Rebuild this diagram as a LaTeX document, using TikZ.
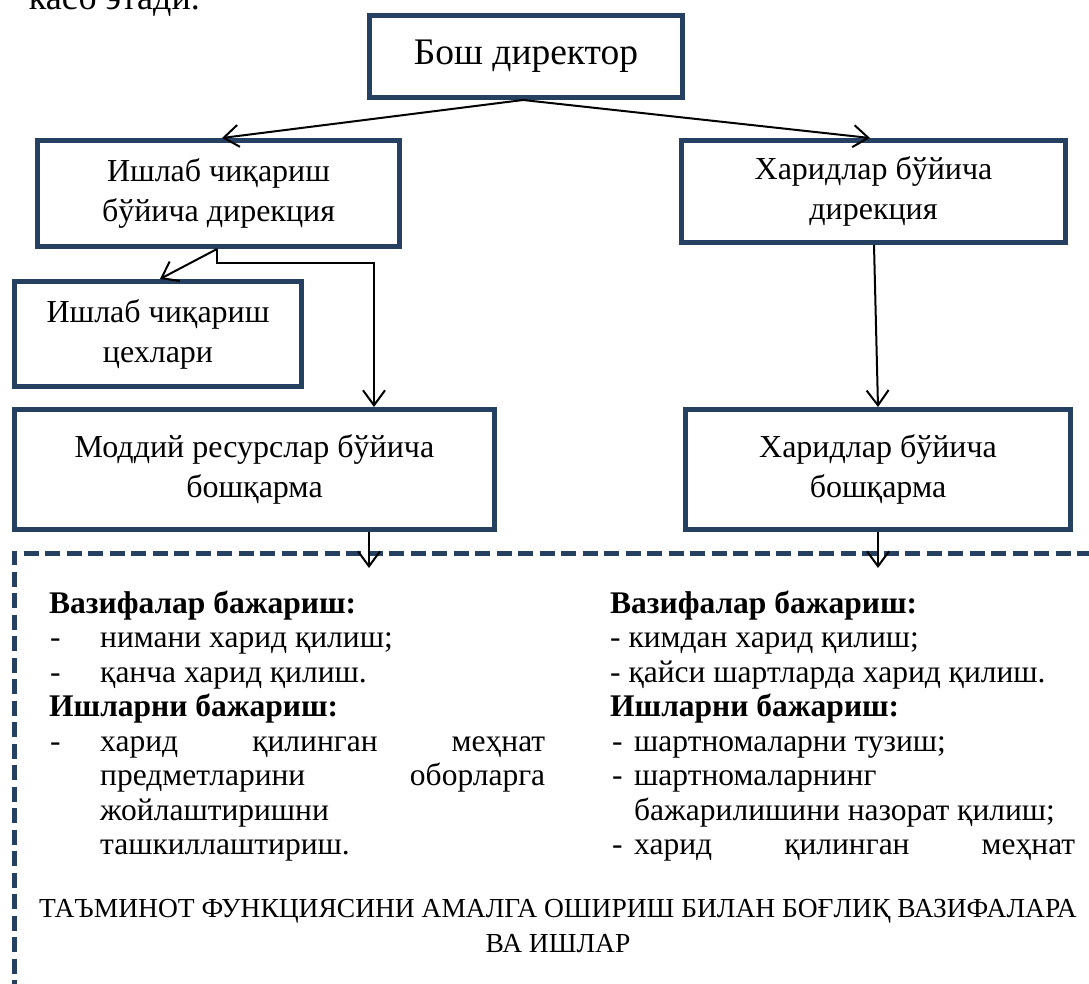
\documentclass[tikz,border=0pt]{standalone}
\usepackage{fontspec}
\setmainfont{Liberation Serif}
\usetikzlibrary{arrows.meta,calc}
\definecolor{navy}{HTML}{264061}
\tikzset{
  box/.style={draw=navy, line width=5pt, outer sep=auto, inner sep=0pt, align=center,
              font=\fontsize{32}{40}\selectfont},
  arr/.style={draw=black, line width=2pt, -{Straight Barb[length=15pt,width=22pt,line width=2pt]}},
  txt/.style={inner sep=0pt, anchor=base west, font=\fontsize{31.5}{34.5}\selectfont},
  headtxt/.style={txt, font=\fontsize{31.5}{34.5}\selectfont\bfseries},
  captxt/.style={inner sep=0pt, anchor=base, font=\fontsize{27.5}{34.5}\selectfont},
  dashbox/.style={draw=navy, line width=5pt, dash pattern=on 15pt off 6.5pt},
}
\begin{document}
\begin{tikzpicture}[x=1pt,y=-1pt]
\useasboundingbox (0,0) rectangle (1089,984);
\clip (0,0) rectangle (1089,984);

% fragment of text above the diagram
\node[txt, anchor=base east, font=\fontsize{36}{40}\selectfont] (frag) at (200,10) {касб этади.};

% boxes
\node[box, minimum width=313pt, minimum height=82pt, font=\fontsize{37.5}{40}\selectfont] (gd) at (526,56.5) {Бош директор};
\node[box, minimum width=362pt, minimum height=106pt] (pd) at (218.5,193.5) {Ишлаб чиқариш\\бўйича дирекция};
\node[box, minimum width=384pt, minimum height=102pt] (hdir) at (873.5,191.5) {Харидлар бўйича\\дирекция};
\node[box, minimum width=287pt, minimum height=105pt] (ws) at (158,334) {Ишлаб чиқариш\\цехлари};
\node[box, minimum width=480pt, minimum height=120pt] (mr) at (254.5,469.5) {Моддий ресурслар бўйича\\бошқарма};
\node[box, minimum width=385pt, minimum height=120pt] (hb) at (878,469.5) {Харидлар бўйича\\бошқарма};

% dashed frame
\coordinate (dA) at (14,995);
\coordinate (dB) at (14,553);
\coordinate (dC) at (1100,553);
\draw[dashbox] (dA) -- (dB) -- (dC);

% connectors
\draw[arr] ([xshift=-3pt]gd.south) -- ([xshift=3.5pt]pd.north);
\draw[arr] ([xshift=-3pt]gd.south) -- ([xshift=-3.5pt]hdir.north);
\draw[arr] ([xshift=-1.5pt]pd.south) -- ([xshift=2pt]ws.north);
\draw[arr] ([xshift=-1.5pt]pd.south) -- ++(0,14) -| ([xshift=119.5pt]mr.north);
\draw[arr] ([xshift=0.5pt]hdir.south) -- (hb.north);
\coordinate (e1) at (369,568);
\coordinate (e2) at (878,568);
\draw[arr] (mr.south -| e1) -- (e1);
\draw[arr] (hb.south) -- (e2);

% left column
\node[headtxt] (l1) at (49,613) {Вазифалар бажариш:};
\node[txt] (l2) at (50,647) {\makebox[50pt][l]{-}нимани харид қилиш;};
\node[txt] (l3) at (50,682) {\makebox[50pt][l]{-}қанча харид қилиш.};
\node[headtxt] (l4) at (49,716) {Ишларни бажариш:};
\node[txt] (l5) at (50,751) {\makebox[50pt][l]{-}\makebox[445pt][s]{харид қилинган меҳнат}};
\node[txt] (l6) at (100,785) {\makebox[445pt][s]{предметларини оборларга}};
\node[txt] (l7) at (100,820) {жойлаштиришни};
\node[txt] (l8) at (100,854) {ташкиллаштириш.};

% right column
\node[headtxt] (r1) at (610,613) {Вазифалар бажариш:};
\node[txt] (r2) at (610,647) {- кимдан харид қилиш;};
\node[txt] (r3) at (610,682) {- қайси шартларда харид қилиш.};
\node[headtxt] (r4) at (610,716) {Ишларни бажариш:};
\node[txt] (r5) at (612,751) {\makebox[22pt][l]{-}шартномаларни тузиш;};
\node[txt] (r6) at (612,785) {\makebox[22pt][l]{-}шартномаларнинг};
\node[txt] (r7) at (634,820) {бажарилишини назорат қилиш;};
\node[txt] (r8) at (612,854) {\makebox[22pt][l]{-}\makebox[441pt][s]{харид қилинган меҳнат}};

% caption
\node[captxt] (c1) at (558,917) {ТАЪМИНОТ ФУНКЦИЯСИНИ АМАЛГА ОШИРИШ БИЛАН БОҒЛИҚ ВАЗИФАЛАРА};
\node[captxt] (c2) at (558,952) {ВА ИШЛАР};
\end{tikzpicture}
\end{document}
